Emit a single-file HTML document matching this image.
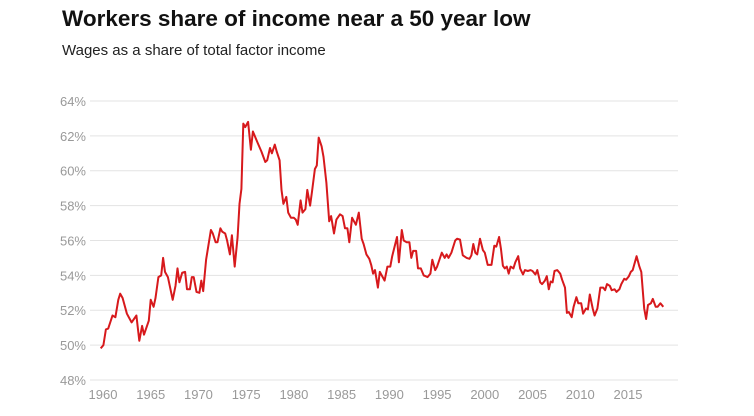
<!DOCTYPE html>
<html><head><meta charset="utf-8">
<style>
body{margin:0;background:#fff;width:754px;height:416px;overflow:hidden;font-family:"Liberation Sans",sans-serif}
#title{position:absolute;left:62px;top:6px;font-size:22.5px;font-weight:bold;color:#111;margin:0}
#sub{position:absolute;left:62px;top:42px;font-size:15px;color:#222}
svg{position:absolute;left:0;top:0}
</style></head><body>
<h1 id="title">Workers share of income near a 50 year low</h1>
<div id="sub">Wages as a share of total factor income</div>
<svg id="chart" width="754" height="416"></svg>
<script>
const yTicks=[48,50,52,54,56,58,60,62,64];
const xTicks=[1960,1965,1970,1975,1980,1985,1990,1995,2000,2005,2010,2015];
const years=[1959.76,1960.04,1960.3,1960.55,1961.0,1961.3,1961.6,1961.8,1962.05,1962.5,1963.0,1963.5,1963.8,1964.1,1964.3,1964.8,1965.0,1965.3,1965.5,1965.8,1966.1,1966.3,1966.5,1966.8,1967.3,1967.6,1967.8,1968.0,1968.3,1968.6,1968.8,1969.1,1969.3,1969.5,1969.8,1970.1,1970.3,1970.5,1970.8,1971.3,1971.5,1971.8,1972.0,1972.3,1972.5,1972.8,1973.0,1973.3,1973.5,1973.8,1974.1,1974.3,1974.5,1974.7,1974.9,1975.2,1975.5,1975.7,1976.2,1976.6,1977.0,1977.2,1977.5,1977.7,1978.0,1978.2,1978.5,1978.7,1978.9,1979.2,1979.4,1979.7,1980.0,1980.2,1980.4,1980.7,1980.9,1981.2,1981.4,1981.7,1981.9,1982.2,1982.4,1982.6,1982.9,1983.1,1983.4,1983.7,1983.9,1984.2,1984.45,
1984.83,1985.1,1985.35,1985.6,1985.8,1986.1,1986.5,1986.8,1987.1,1987.3,1987.6,1987.9,1988.1,1988.3,1988.5,1988.8,1989.0,1989.3,1989.5,1989.8,1990.1,1990.3,1990.8,1991.0,1991.3,1991.5,1991.8,1992.1,1992.3,1992.5,1992.8,1993.0,1993.3,1993.6,1993.8,1994.0,1994.3,1994.5,1994.8,1995.0,1995.5,1995.8,1996.0,1996.2,1996.5,1996.9,1997.1,1997.4,1997.7,1998.1,1998.4,1998.6,1998.8,1999.0,1999.2,1999.5,1999.8,2000.0,2000.3,2000.7,2001.0,2001.2,2001.5,2001.7,2001.9,2002.1,2002.3,2002.5,2002.7,2003.0,2003.2,2003.5,2003.7,2004.0,2004.2,2004.5,2004.8,2005.0,2005.3,2005.5,2005.8,2006.0,2006.3,2006.5,2006.7,2006.9,2007.1,2007.3,2007.6,2007.9,2008.1,2008.4,2008.6,2008.8,2009.1,2009.3,2009.6,2009.8,2010.1,2010.3,2010.6,2010.8,2011.0,2011.3,2011.5,2011.8,2012.1,2012.4,2012.6,2012.8,2013.1,2013.3,2013.6,2013.8,2014.1,2014.3,2014.6,2014.8,2015.1,2015.3,2015.5,2015.9,2016.2,2016.4,2016.7,2016.9,2017.1,2017.4,2017.6,2017.9,2018.1,2018.4,2018.7];
const shares=[49.81,50.0,50.9,50.95,51.7,51.6,52.6,52.95,52.7,51.8,51.3,51.7,50.25,51.1,50.6,51.4,52.6,52.2,52.7,53.9,54.0,55.0,54.2,53.9,52.6,53.4,54.4,53.6,54.15,54.2,53.2,53.2,53.9,53.9,53.05,53.0,53.7,53.1,54.9,56.6,56.4,55.9,55.9,56.7,56.5,56.4,56.0,55.2,56.3,54.5,56.2,58.1,58.95,62.7,62.5,62.8,61.2,62.25,61.6,61.1,60.5,60.6,61.3,61.0,61.5,61.1,60.6,58.9,58.1,58.5,57.6,57.3,57.3,57.2,56.9,58.3,57.6,57.8,58.9,58.0,58.8,60.1,60.3,61.9,61.4,60.8,59.3,57.1,57.4,56.4,57.2,
57.5,57.4,56.7,56.7,55.9,57.3,56.9,57.6,56.1,55.8,55.2,54.95,54.6,54.1,54.3,53.3,54.2,53.9,53.7,54.5,54.5,55.1,56.2,54.75,56.6,56.0,55.9,55.9,55.0,55.4,55.4,54.4,54.4,54.0,53.95,53.9,54.1,54.9,54.3,54.5,55.3,55.0,55.2,55.0,55.3,56.0,56.1,56.05,55.15,55.0,54.95,55.15,55.8,55.3,55.2,56.1,55.45,55.3,54.6,54.6,55.7,55.65,56.2,55.5,54.55,54.4,54.5,54.1,54.5,54.4,54.75,55.1,54.4,54.05,54.3,54.25,54.3,54.25,54.05,54.3,53.6,53.5,53.7,53.95,53.2,53.65,53.6,54.25,54.3,54.1,53.75,53.3,51.85,51.9,51.6,52.2,52.75,52.4,52.4,51.8,52.1,52.05,52.9,52.1,51.7,52.1,53.3,53.3,53.15,53.5,53.4,53.15,53.2,53.05,53.2,53.5,53.8,53.75,53.95,54.2,54.3,55.1,54.5,54.2,52.1,51.5,52.3,52.4,52.65,52.2,52.2,52.4,52.2];
const NS='http://www.w3.org/2000/svg';
const svg=document.getElementById('chart');
const X=y=>103+(y-1960)*9.545;
const Y=v=>380-(v-48)*17.44;
function mk(t,a){const e=document.createElementNS(NS,t);for(const k in a)e.setAttribute(k,a[k]);svg.appendChild(e);return e;}
yTicks.forEach(v=>{
  const l=mk('line',{x1:90,x2:678,y1:Y(v),y2:Y(v),stroke:'#e3e3e3','stroke-width':1});
  
  
  const t=mk('text',{x:86,y:Y(v)+5,'text-anchor':'end','font-size':13,fill:'#999','font-family':'Liberation Sans, sans-serif'});
  t.textContent=v+'%';
  
  
});
xTicks.forEach(y=>{
  const t=mk('text',{x:X(y),y:399,'text-anchor':'middle','font-size':13,fill:'#999','font-family':'Liberation Sans, sans-serif'});
  t.textContent=y;
  
  
});
const d=years.map((y,i)=>(i?'L':'M')+X(y).toFixed(1)+','+Y(shares[i]).toFixed(1)).join('');
const p=mk('path',{d:d,fill:'none',stroke:'#d7191c','stroke-width':2,'stroke-linejoin':'round'});


</script>
</body></html>
